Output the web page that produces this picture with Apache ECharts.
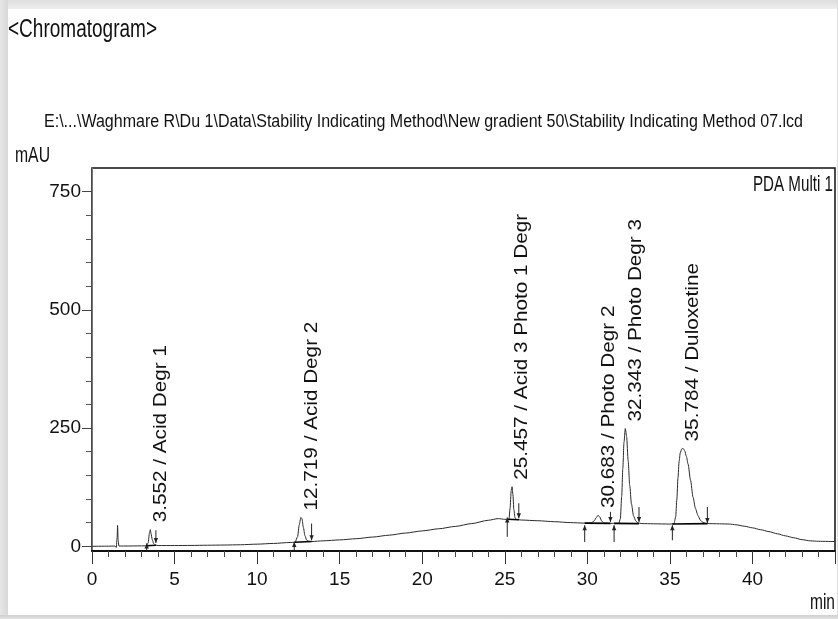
<!DOCTYPE html>
<html><head><meta charset="utf-8">
<script src="https://cdn.jsdelivr.net/npm/echarts@6/dist/echarts.min.js"></script>
<style>
html,body{margin:0;padding:0;background:#fff;}
#wrap{position:relative;width:838px;height:619px;overflow:hidden;background:#fff;}
#chart{position:absolute;left:0;top:0;width:838px;height:619px;}
.band{position:absolute;pointer-events:none;}
</style></head><body>
<div id="wrap"><div id="chart"></div>
<div class="band" style="left:0;top:0;width:838px;height:9px;background:linear-gradient(#dedede,#eeeeee)"></div>
<div class="band" style="left:0;top:0;width:8px;height:619px;background:linear-gradient(90deg,#e6e6e6,#d8d8d8)"></div>
<div class="band" style="left:837px;top:0;width:1px;height:619px;background:#dcdcdc"></div>
<div class="band" style="left:0;top:615px;width:838px;height:4px;background:linear-gradient(#cfcfcf,#e2e2e2)"></div>
</div>
<script>
// ---- data ----
const tracePoints = [
  [0,0],[1,0.2],[1.40,0.5],[1.47,-2.5],[1.52,18],[1.55,44],[1.58,14],[1.63,0.5],[2,0.5],[3,0.8],
  [3.30,1],[3.40,7],[3.48,28],[3.53,35],[3.58,26],[3.65,14],[3.73,6],[3.85,2.5],[4,1.5],[5,1.5],
  [6,1.8],[7,2.2],[8,2.6],[9,3.2],[10,4.5],[11,6],[12,8],[12.3,8.5],[12.45,20],[12.55,45],
  [12.65,61],[12.72,58],[12.8,40],[12.9,22],[13.0,13],[13.15,10],[13.3,10],[14,11.5],[15,13.5],
  [16,16],[17,19.5],[18,23.5],[19,28],[20,32.5],[21,37],[22,42],[23,48],[24,55],[24.6,58.5],
  [25.0,57],[25.25,56.5],[25.32,80],[25.39,118],[25.44,126],[25.49,110],[25.55,78],[25.62,60],
  [25.72,56.5],[26,55.5],[27,54],[28,52],[29,50],[29.8,49],[30.2,49],[30.4,53],[30.55,61],
  [30.65,65.5],[30.75,62],[30.88,53],[31.0,49],[31.5,48.5],[31.9,48.5],[32.00,58],[32.08,105],
  [32.15,165],[32.22,220],[32.30,249],[32.38,232],[32.47,182],[32.57,128],[32.67,90],[32.80,64],
  [32.93,54],[33.05,49.5],[33.3,48],[34,47.5],[35,47],[35.25,47.5],[35.35,62],[35.42,98],
  [35.49,145],[35.56,180],[35.63,198],[35.72,206],[35.80,207],[35.90,202],[36.00,190],[36.10,174],
  [36.25,140],[36.40,104],[36.55,80],[36.70,65],[36.85,55],[37.00,50.5],[37.2,48],[38,47.5],
  [38.6,47],[39,45.5],[39.5,42.5],[40,39],[40.5,35],[41,31],[41.5,26.5],[42,22],[42.5,18],
  [43,14],[43.5,11.5],[44,10.5],[45,10]
];
const peakRT    = [3.552, 12.719, 25.457, 30.683, 32.343, 35.784];
const peakApex  = [36, 61, 126, 66, 249, 207];
const peakNames = ['Acid Degr 1', 'Acid Degr 2', 'Acid 3 Photo 1 Degr', 'Photo Degr 2', 'Photo Degr 3', 'Duloxetine'];
// integration markers: [time, tip value, tail value]
const integrationMarks = [
  [3.31,6,-9],[3.87,7,34],[12.25,9,-10],[13.3,12.7,48],[25.15,61,20],[25.85,59,91],
  [29.84,44.5,9],[31.4,51.5,72.7],[31.62,44.5,9],[33.13,51.5,83],[35.15,44.5,12.7],[37.27,49,83]
];
// integration baselines: [t1, v1, t2, v2]
const integrationBaselines = [
  [3.31,1,3.87,2],[12.25,8.5,13.3,10],[25.15,57,25.85,56],
  [29.84,49,31.4,48.5],[31.62,48.5,33.13,48],[35.15,47,37.27,48]
];
const xTicks = [0,5,10,15,20,25,30,35,40];
const yMajor = [0,250,500,750];
const yMinor = [50,100,150,200,300,350,400,450,550,600,650,700];
const titleText = '<Chromatogram>';
const pathText = 'E:\\...\\Waghmare R\\Du 1\\Data\\Stability Indicating Method\\New gradient 50\\Stability Indicating Method 07.lcd';
const yName = 'mAU';
const xName = 'min';
const channelText = 'PDA Multi 1';

const FONT = '"Liberation Sans",Arial,sans-serif';
const INK = '#111';
const STRETCH = 1.25; // reference text is vertically stretched

const mctx = document.createElement('canvas').getContext('2d');
function fitText(text, size, x, y, targetW, align) {
  mctx.font = size + 'px "Liberation Sans", Arial, sans-serif';
  const w = mctx.measureText(text).width;
  return {type:'text', x:x, y:y, scaleX: targetW / w, scaleY: STRETCH,
    style:{text:text, fontFamily:FONT, fontSize:size, fill:INK, align:align || 'left', verticalAlign:'middle'}};
}

const chart = echarts.init(document.getElementById('chart'), null, {renderer:'canvas'});
const option = {
  animation:false,
  backgroundColor:'transparent',
  grid:{left:92, top:168, width:743, height:383, show:true, borderColor:'#111', borderWidth:1.5, backgroundColor:'transparent'},
  xAxis:{
    type:'value', min:0, max:45, interval:5,
    axisLine:{show:true, onZero:false, lineStyle:{color:'#111', width:2}},
    axisTick:{show:true, length:13, lineStyle:{color:'#333', width:1}},
    minorTick:{show:true, splitNumber:5, length:6, lineStyle:{color:'#444', width:1}},
    axisLabel:{showMaxLabel:false, margin:19, fontFamily:FONT, fontSize:19, color:INK},
    splitLine:{show:false}
  },
  yAxis:[{
    type:'value', min:-10, max:800,
    axisLine:{show:true, onZero:false, lineStyle:{color:'#777', width:1}},
    axisTick:{show:true, customValues:yMajor, length:10, lineStyle:{color:'#444', width:1}},
    axisLabel:{customValues:yMajor, margin:11, fontFamily:FONT, fontSize:19, color:INK},
    splitLine:{show:false}
  },{
    type:'value', min:-10, max:800, position:'left', offset:0,
    axisLine:{show:false},
    axisTick:{show:true, customValues:yMinor, length:6, lineStyle:{color:'#555', width:1}},
    axisLabel:{show:false},
    splitLine:{show:false}
  }],
  graphic:[
    fitText(titleText, 21, 8, 30, 149, 'left'),
    fitText(pathText, 15, 44, 122, 759, 'left'),
    fitText(yName, 17, 15, 156, 35, 'left'),
    fitText(channelText, 18, 833, 185, 80, 'right'),
    fitText(xName, 18, 810, 603, 25, 'left')
  ],
  series:[
    {type:'line', data:tracePoints, showSymbol:false, smooth:0.25, smoothMonotone:'x',
     lineStyle:{color:'#2a2a2a', width:1}, z:3},
    {type:'custom', data:integrationBaselines, clip:false, z:4,
     renderItem(params, api){
       const a = api.coord([api.value(0), api.value(1)]);
       const b = api.coord([api.value(2), api.value(3)]);
       return {type:'line', shape:{x1:a[0], y1:a[1], x2:b[0], y2:b[1]}, style:{stroke:'#000', lineWidth:1.6}};
     }},
    {type:'custom', data:integrationMarks, clip:false, z:5,
     renderItem(params, api){
       const t = api.value(0);
       const tip = api.coord([t, api.value(1)]);
       const tail = api.coord([t, api.value(2)]);
       const dir = tip[1] < tail[1] ? -1 : 1;
       const hw = 2.2, hl = 5;
       return {type:'group', children:[
         {type:'line', shape:{x1:tail[0], y1:tail[1], x2:tip[0], y2:tip[1]}, style:{stroke:'#222', lineWidth:1}},
         {type:'polygon', shape:{points:[[tip[0], tip[1]], [tip[0]-hw, tip[1]-dir*hl], [tip[0]+hw, tip[1]-dir*hl]]}, style:{fill:'#222'}}
       ]};
     }},
    {type:'custom', data:peakRT.map((t,i)=>[t, peakApex[i], i]), clip:false, z:6,
     renderItem(params, api){
       const p = api.coord([api.value(0), api.value(1)]);
       const i = api.value(2);
       return {type:'text', x:p[0]+10, y:p[1]-7, rotation:Math.PI/2, scaleX:1.15,
         style:{text:peakRT[i].toFixed(3)+' / '+peakNames[i], fontFamily:FONT, fontSize:18, fill:INK, align:'left', verticalAlign:'middle'}};
     }}
  ]
};
chart.setOption(option);
</script>
</body></html>
